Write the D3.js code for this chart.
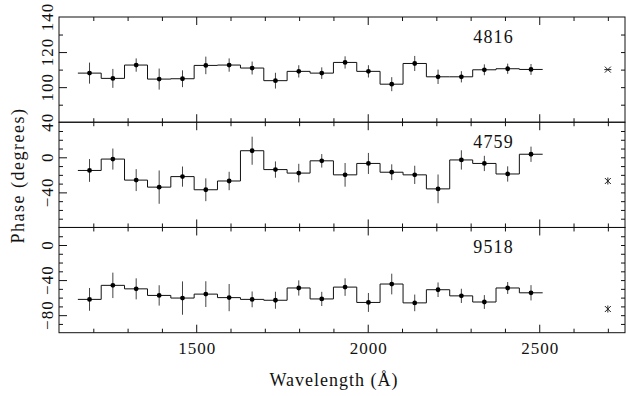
<!DOCTYPE html>
<html>
<head>
<meta charset="utf-8">
<script src="https://cdn.jsdelivr.net/npm/d3@7"></script>
<style>
  body { margin: 0; background: #fff; }
  svg { display: block; }
  svg text { fill: #111; }
</style>
</head>
<body>
<div id="chart"></div>
<script>
// bin centres (Angstrom) and half width of each bin
var wavelengths = [1189, 1257, 1325, 1392, 1460, 1528, 1596, 1663, 1731, 1799,
                   1866, 1934, 2002, 2070, 2137, 2205, 2273, 2340, 2408, 2476];
var binHalf = 34;

var phase4816 = [108, 105, 112.6, 104.6, 104.8, 112.4, 112.6, 110.9, 103.7, 109,
                 108, 114.1, 109, 101.7, 113.5, 105.9, 105.9, 109.9, 110.5, 110.1];
var err4816 = [6, 5.4, 3.8, 6, 4.8, 5, 3.8, 3.7, 4.5, 3.5,
               3.3, 3.5, 3.5, 4, 4.3, 4.1, 3.2, 3.1, 2.9, 3.1];

var phase4759 = [-15, -2, -26, -34, -22, -37, -27, 7.5, -14, -18,
                 -4, -20, -7, -17, -20, -36, -3, -7, -19, 3.5];
var err4759 = [13, 12, 12.5, 19, 11.5, 13, 10.5, 16, 9.3, 10.6,
               7.7, 13.5, 12, 9, 10.4, 16.4, 11, 8.7, 8.7, 8.7];

var phase9518 = [-62, -46, -50, -57.5, -60.5, -56, -60, -62, -63, -49,
                 -61.5, -48, -65.5, -44.5, -66, -51, -58, -65, -49, -54.5];
var err9518 = [13, 14.5, 12, 11.6, 19, 14.7, 15.5, 9, 9.7, 8.7,
               8.1, 10, 10.8, 11.8, 9.5, 8.3, 8.1, 7.9, 6.8, 8.7];

// the lone reference point drawn at the right of each panel
var refWavelength = 2700;
var refPhase = [110, -27, -73];

var panelNames = ["4816", "4759", "9518"];
var panelDomains = [[80, 140], [-80, 40], [-100, 20]];
var panelLabels = [[100, 120, 140], [-40, 0, 40], [-80, -40, 0]];
var xMajor = [1500, 2000, 2500];

var panels = [
    {name: panelNames[0], phase: phase4816, err: err4816},
    {name: panelNames[1], phase: phase4759, err: err4759},
    {name: panelNames[2], phase: phase9518, err: err9518}
];

var serif = "'Liberation Serif', serif";

var width = 626,
    height = 396,
    margin = {top: 17, right: 1, bottom: 63.3, left: 59},
    plotW = width - margin.left - margin.right,
    panelH = (height - margin.top - margin.bottom) / 3;

var svg = d3.select("#chart").append("svg")
    .attr("width", width)
    .attr("height", height);

var x = d3.scaleLinear().domain([1100, 2750]).range([0, plotW]);
var xMinor = d3.range(1200, 2750, 100).filter(d => xMajor.indexOf(d) < 0);

panels.forEach((p, i) => {
    var g = svg.append("g")
        .attr("transform", `translate(${margin.left},${margin.top + i * panelH})`);

    var y = d3.scaleLinear().domain(panelDomains[i]).range([panelH, 0]);
    var yAll = d3.range(panelDomains[i][0] + 10, panelDomains[i][1], 10);
    var yMinor = yAll.filter(d => panelLabels[i].indexOf(d) < 0);
    var yMajor = yAll.filter(d => panelLabels[i].indexOf(d) >= 0);

    // ticks on all four sides, pointing inwards
    var tickSets = [
        [d3.axisBottom(x).tickValues(xMinor).tickSizeInner(-4), `translate(0,${panelH})`],
        [d3.axisBottom(x).tickValues(xMajor).tickSizeInner(-8), `translate(0,${panelH})`],
        [d3.axisTop(x).tickValues(xMinor).tickSizeInner(-4), null],
        [d3.axisTop(x).tickValues(xMajor).tickSizeInner(-8), null],
        [d3.axisLeft(y).tickValues(yMinor).tickSizeInner(-4), null],
        [d3.axisLeft(y).tickValues(yMajor).tickSizeInner(-8), null],
        [d3.axisRight(y).tickValues(yAll).tickSizeInner(-4), `translate(${plotW},0)`]
    ];
    tickSets.forEach(t => {
        var a = g.append("g").call(t[0].tickSizeOuter(0).tickFormat(""));
        if (t[1]) a.attr("transform", t[1]);
        a.select(".domain").remove();
        a.selectAll("line").attr("stroke", "#111");
    });

    // rotated y labels
    var yl = g.append("g")
        .call(d3.axisLeft(y).tickValues(panelLabels[i]).tickSize(0)
            .tickFormat(d => d < 0 ? "\u2212" + Math.abs(d) : d));
    yl.select(".domain").remove();
    yl.attr("font-family", serif).attr("font-size", 17);
    yl.selectAll("text")
        .attr("x", 0.5).attr("dy", null)
        .attr("text-anchor", "middle")
        .attr("transform", "translate(-6,0) rotate(-90)")
        .style("letter-spacing", "1px")
        .style("fill", "#111");

    // frame
    g.append("rect")
        .attr("width", plotW).attr("height", panelH)
        .attr("fill", "none").attr("stroke", "#111").attr("stroke-width", 1);

    // histogram steps
    var steps = wavelengths.map((w, j) => [w - binHalf, p.phase[j]]);
    steps.push([wavelengths[wavelengths.length - 1] + binHalf, p.phase[p.phase.length - 1]]);
    g.append("path")
        .datum(steps)
        .attr("fill", "none")
        .attr("stroke", "#111")
        .attr("stroke-width", 1)
        .attr("d", d3.line().x(d => x(d[0])).y(d => y(d[1])).curve(d3.curveStepAfter));

    // error bars
    g.selectAll(".err")
        .data(wavelengths)
        .enter().append("line")
        .attr("class", "err")
        .attr("x1", d => x(d)).attr("x2", d => x(d))
        .attr("y1", (d, j) => y(p.phase[j] - p.err[j]))
        .attr("y2", (d, j) => y(p.phase[j] + p.err[j]))
        .attr("stroke", "#444")
        .attr("stroke-width", 1);

    // points
    g.selectAll(".pt")
        .data(wavelengths)
        .enter().append("circle")
        .attr("class", "pt")
        .attr("cx", d => x(d))
        .attr("cy", (d, j) => y(p.phase[j]))
        .attr("r", 2.4)
        .attr("fill", "#000");

    // asterisk reference mark
    var sx = x(refWavelength), sy = y(refPhase[i]), s = 3;
    g.append("path")
        .attr("d", `M${sx - s},${sy - s}L${sx + s},${sy + s}M${sx - s},${sy + s}L${sx + s},${sy - s}` +
            (i > 0 ? `M${sx},${sy - s - 0.5}L${sx},${sy + s + 0.5}` : `M${sx - s - 0.5},${sy}L${sx + s + 0.5},${sy}`))
        .attr("stroke", "#222")
        .attr("stroke-width", 1)
        .attr("fill", "none");

    // source label
    g.append("text")
        .attr("x", x(2367))
        .attr("y", 26)
        .attr("text-anchor", "middle")
        .style("font-family", serif)
        .style("font-size", "18px")
        .style("letter-spacing", "1.2px")
        .text(p.name);

    // x labels only on the bottom panel
    if (i === panels.length - 1) {
        var xl = g.append("g")
            .attr("transform", `translate(0,${panelH})`)
            .call(d3.axisBottom(x).tickValues(xMajor).tickSize(0).tickFormat(d3.format("d")));
        xl.select(".domain").remove();
        xl.attr("font-family", serif).attr("font-size", 17);
        xl.selectAll("text")
            .attr("x", 0.5)
            .attr("y", 21.5).attr("dy", null)
            .style("letter-spacing", "1px")
            .style("fill", "#111");
    }
});

// axis titles
svg.append("text")
    .attr("x", margin.left + x(1900) + 0.5)
    .attr("y", 386)
    .attr("text-anchor", "middle")
    .style("font-family", serif)
    .style("font-size", "18px")
    .style("letter-spacing", "1px")
    .text("Wavelength (\u00C5)");

svg.append("text")
    .attr("transform", `translate(24,${margin.top + 1.5 * panelH + 0.7}) rotate(-90)`)
    .attr("text-anchor", "middle")
    .style("font-family", serif)
    .style("font-size", "18px")
    .style("letter-spacing", "1.5px")
    .text("Phase (degrees)");
</script>
</body>
</html>
